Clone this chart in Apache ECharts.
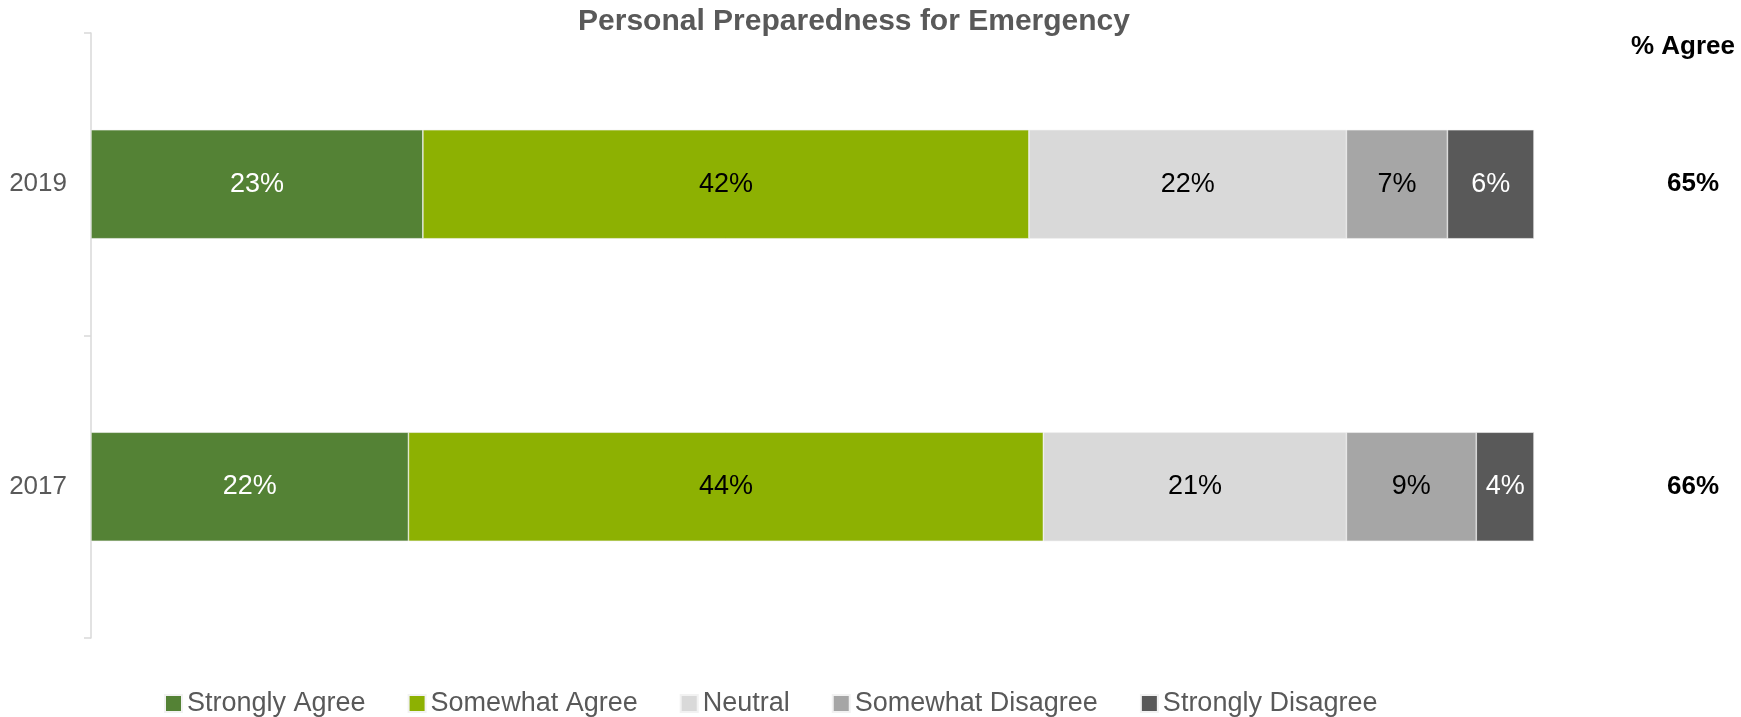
<!DOCTYPE html>
<html><head><meta charset="utf-8">
<script src="https://cdn.jsdelivr.net/npm/echarts@6/dist/echarts.min.js"></script>
<style>html,body{margin:0;padding:0;background:#fff}#c{width:1741px;height:717px}</style>
</head><body><div id="c"></div>
<script>
const years = ['2019', '2017'];
const seriesNames = ['Strongly Agree', 'Somewhat Agree', 'Neutral', 'Somewhat Disagree', 'Strongly Disagree'];
const stronglyAgree = [23, 22];
const somewhatAgree = [42, 44];
const neutral = [22, 21];
const somewhatDisagree = [7, 9];
const stronglyDisagree = [6, 4];
const pctAgree = [65, 66];
const colors = ['#548235', '#8DB102', '#D9D9D9', '#A6A6A6', '#595959'];
const labelColors = ['#ffffff', '#000000', '#000000', '#000000', '#ffffff'];
const values = [stronglyAgree, somewhatAgree, neutral, somewhatDisagree, stronglyDisagree];
const FONT = '"Liberation Sans", sans-serif';

const chart = echarts.init(document.getElementById('c'), null, {renderer: 'canvas'});
chart.setOption({
  animation: false,
  textStyle: {fontFamily: FONT},
  title: [{
    text: 'Personal Preparedness for Emergency',
    left: 849, top: 2, textAlign: 'center',
    textStyle: {fontFamily: FONT, fontSize: 30, fontWeight: 'bold', color: '#595959'}
  }, {
    text: '% Agree', right: 1, top: 29,
    textStyle: {fontFamily: FONT, fontSize: 26, fontWeight: 'bold', color: '#000'}
  }],
  legend: {
    bottom: -5, left: 159,
    itemWidth: 17, itemHeight: 17, itemGap: 42,
    icon: 'rect',
    textStyle: {fontFamily: FONT, fontSize: 27, color: '#595959'},
    data: seriesNames
  },
  grid: {left: 91, right: 207, top: 33, bottom: 79, containLabel: false},
  xAxis: {type: 'value', min: 0, max: 100, show: false},
  yAxis: [{
    type: 'category', data: years, inverse: true,
    axisLine: {show: true, lineStyle: {color: '#D9D9D9', width: 1.5}},
    axisTick: {show: true, length: 7, lineStyle: {color: '#D9D9D9', width: 1.5}},
    axisLabel: {fontFamily: FONT, fontSize: 26, color: '#595959', margin: 24}
  }, {
    type: 'category', data: years, inverse: true, position: 'right',
    axisLine: {show: false}, axisTick: {show: false},
    axisLabel: {
      fontFamily: FONT, fontSize: 26, fontWeight: 'bold', color: '#000',
      margin: 159, align: 'center',
      formatter: (v, i) => pctAgree[i] + '%'
    }
  }],
  series: seriesNames.map((name, k) => ({
    name, type: 'bar', stack: 'total', yAxisIndex: 0,
    barWidth: 109,
    data: values[k],
    itemStyle: {color: colors[k], borderColor: '#f2f2f2', borderWidth: 0.6},
    label: {
      show: true, position: 'inside',
      formatter: p => p.value + '%',
      fontFamily: FONT, fontSize: 27, color: labelColors[k]
    }
  }))
});
</script></body></html>
